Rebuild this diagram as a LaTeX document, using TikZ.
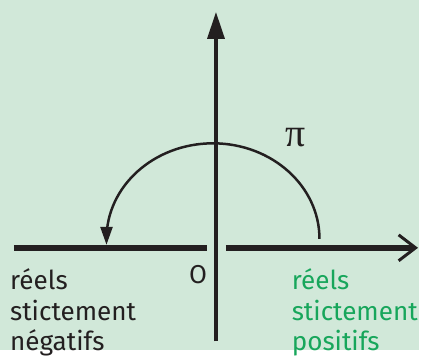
\documentclass[tikz,border=0pt]{standalone}
\usepackage{fontspec}
\setmainfont{Fira Sans}
\newfontfamily\grec{Liberation Serif}
\usetikzlibrary{arrows.meta}
\definecolor{fond}{HTML}{D1E8D9}
\definecolor{encre}{HTML}{231F20}
\definecolor{vert}{HTML}{17A65B}

\begin{document}
\begin{tikzpicture}[x=1pt,y=1pt,
    texte/.style={font=\fontsize{26.2}{30.5}\selectfont,align=left,inner sep=0pt,anchor=north west}]
  % the background, fixing the margins
  \fill[fond] (0,0) rectangle (421,352);
  % the axes
  \coordinate (bas) at (217,9);
  \coordinate (haut) at (217,340);
  \coordinate (gauche) at (14,103);
  \coordinate (gfin) at (208,103);
  \coordinate (ddeb) at (227,103);
  \coordinate (droite) at (420,103);
  \draw[encre,line width=3.5pt,-{Triangle[length=27pt,width=17pt]}] (bas) -- (haut);
  \draw[encre,line width=6pt] (gauche) -- (gfin);
  \draw[encre,line width=6pt,-{Straight Barb[length=17pt,width=26pt,line width=3pt]}] (ddeb) -- (droite);
  % the half turn
  \coordinate (depart) at (321,112);
  \coordinate (arrivee) at (107,106);
  \draw[encre,line width=2.5pt,-{Triangle[length=18pt,width=12pt]}]
    (depart) arc[start angle=0,end angle=180,x radius=107,y radius=96] -- (arrivee);
  % the labels
  \node[font=\fontsize{40}{40}\selectfont\grec,text=encre] (pi) at (297,214) {π};
  \node[font=\fontsize{26}{26}\selectfont,text=encre] (origine) at (199,76) {O};
  \node[texte,text=encre] (negatifs) at (10,82) {réels\\ stictement\\ négatifs};
  \node[texte,text=vert] (positifs) at (293,82) {réels\\ stictement\\ positifs};
\end{tikzpicture}
\end{document}
